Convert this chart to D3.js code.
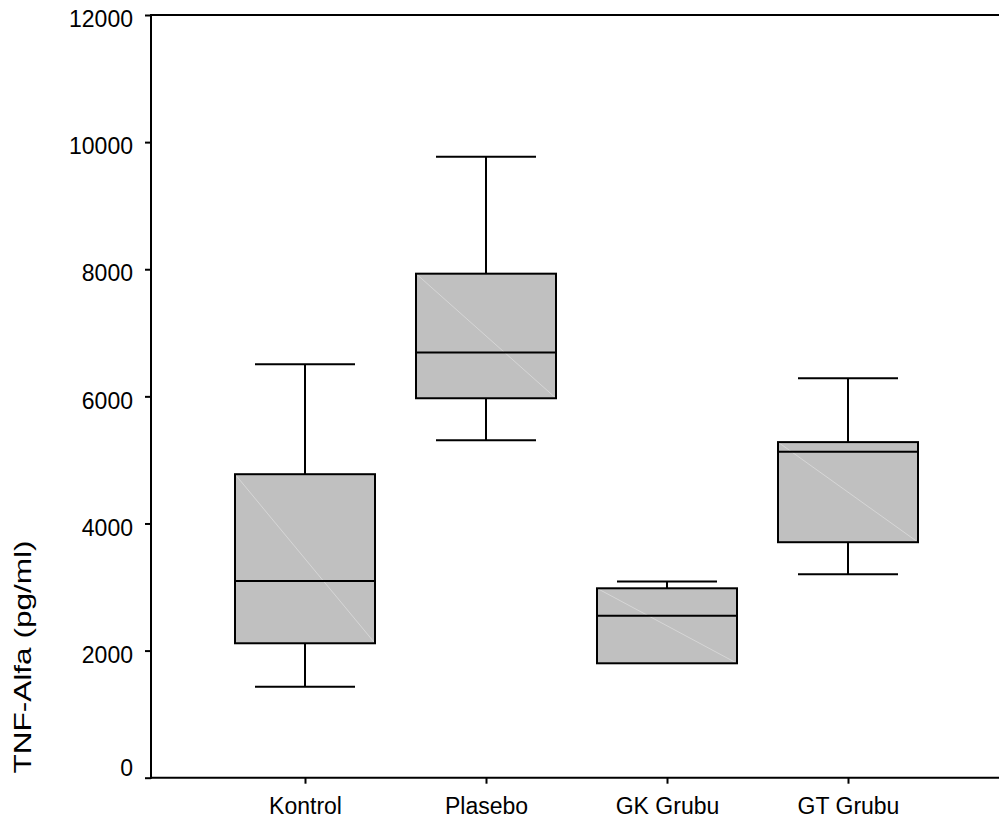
<!DOCTYPE html>
<html>
<head>
<meta charset="utf-8">
<script src="https://cdn.jsdelivr.net/npm/d3@7"></script>
<style>
body { margin: 0; background: #fff; }
text { font-family: "Liberation Sans", Arial, sans-serif; }
</style>
</head>
<body>
<div id="divbody"></div>
<script>
var groups = ["Kontrol", "Plasebo", "GK Grubu", "GT Grubu"];
var whiskerLow = [1430, 5310, 1800, 3200];
var q1 = [2115, 5970, 1800, 3705];
var median = [3095, 6690, 2550, 5130];
var q3 = [4775, 7930, 2980, 5280];
var whiskerHigh = [6505, 9770, 3085, 6285];
var yTicks = [0, 2000, 4000, 6000, 8000, 10000, 12000];

var width = 999;
var height = 821;
var plotLeft = 151, plotRight = 999, plotTop = 15, plotBottom = 777.7;
var boxwidth = 140;
var capwidth = 100;

var svg = d3.select("#divbody").append("svg")
	.attr("width", width)
	.attr("height", height);

var x = d3.scalePoint().domain(groups).range([305, 848]);
var y = d3.scaleLinear().domain([0, 12000]).range([plotBottom, plotTop]);

var boxes = groups.map(function(g, i) {
	return {name: g, lo: whiskerLow[i], q1: q1[i], med: median[i], q3: q3[i], hi: whiskerHigh[i]};
});

// top frame line
svg.append("line")
	.attr("x1", plotLeft).attr("x2", plotRight)
	.attr("y1", y(12000)).attr("y2", y(12000))
	.attr("stroke", "#000").attr("stroke-width", 2);

var yAxis = svg.append("g")
	.attr("transform", "translate(" + plotLeft + ",0)")
	.call(d3.axisLeft(y).tickValues(yTicks).tickFormat(d3.format("d")).tickSize(6).tickPadding(12));
yAxis.select(".domain").remove();
yAxis.append("line")
	.attr("x1", 0).attr("x2", 0)
	.attr("y1", y(12000) - 1).attr("y2", plotBottom + 1)
	.attr("stroke", "#000").attr("stroke-width", 2);
yAxis.selectAll(".tick text")
	.attr("dy", function(d) { return d === 0 ? "-0.08em" : "0.51em"; });

var xAxis = svg.append("g")
	.attr("transform", "translate(0," + plotBottom + ")")
	.call(d3.axisBottom(x).tickSize(6).tickPadding(14));
xAxis.select(".domain").remove();
xAxis.append("line")
	.attr("x1", plotLeft - 1).attr("x2", plotRight)
	.attr("stroke", "#000").attr("stroke-width", 2);

svg.selectAll(".tick line").attr("stroke", "#000").attr("stroke-width", 2);
svg.selectAll(".tick text").attr("fill", "#000").style("font-size", "23px");

var box = svg.selectAll(".box")
	.data(boxes)
	.enter().append("g")
	.attr("class", "box");

// whiskers
box.append("line")
	.attr("x1", function(d) { return x(d.name); })
	.attr("x2", function(d) { return x(d.name); })
	.attr("y1", function(d) { return y(d.hi); })
	.attr("y2", function(d) { return y(d.q3); })
	.attr("stroke", "#000").attr("stroke-width", 2);
box.append("line")
	.attr("x1", function(d) { return x(d.name); })
	.attr("x2", function(d) { return x(d.name); })
	.attr("y1", function(d) { return y(d.q1); })
	.attr("y2", function(d) { return y(d.lo); })
	.attr("stroke", "#000").attr("stroke-width", 2);
box.append("line")
	.attr("x1", function(d) { return x(d.name) - capwidth / 2; })
	.attr("x2", function(d) { return x(d.name) + capwidth / 2; })
	.attr("y1", function(d) { return y(d.hi); })
	.attr("y2", function(d) { return y(d.hi); })
	.attr("stroke", "#000").attr("stroke-width", 2);
box.filter(function(d) { return d.lo < d.q1; })
	.append("line")
	.attr("x1", function(d) { return x(d.name) - capwidth / 2; })
	.attr("x2", function(d) { return x(d.name) + capwidth / 2; })
	.attr("y1", function(d) { return y(d.lo); })
	.attr("y2", function(d) { return y(d.lo); })
	.attr("stroke", "#000").attr("stroke-width", 2);

box.append("rect")
	.attr("x", function(d) { return x(d.name) - boxwidth / 2; })
	.attr("y", function(d) { return y(d.q3); })
	.attr("width", boxwidth)
	.attr("height", function(d) { return y(d.q1) - y(d.q3); })
	.attr("fill", "#c0c0c0");

// faint diagonal from the fill
box.append("line")
	.attr("x1", function(d) { return x(d.name) - boxwidth / 2; })
	.attr("x2", function(d) { return x(d.name) + boxwidth / 2; })
	.attr("y1", function(d) { return y(d.q3); })
	.attr("y2", function(d) { return y(d.q1); })
	.attr("stroke", "#d6d6d6").attr("stroke-width", 1);

box.append("rect")
	.attr("x", function(d) { return x(d.name) - boxwidth / 2; })
	.attr("y", function(d) { return y(d.q3); })
	.attr("width", boxwidth)
	.attr("height", function(d) { return y(d.q1) - y(d.q3); })
	.attr("fill", "none")
	.attr("stroke", "#000").attr("stroke-width", 2);

box.append("line")
	.attr("x1", function(d) { return x(d.name) - boxwidth / 2; })
	.attr("x2", function(d) { return x(d.name) + boxwidth / 2; })
	.attr("y1", function(d) { return y(d.med); })
	.attr("y2", function(d) { return y(d.med); })
	.attr("stroke", "#000").attr("stroke-width", 2);

svg.append("text")
	.attr("transform", "translate(31,657) rotate(-90)")
	.attr("text-anchor", "middle")
	.attr("textLength", 233)
	.attr("lengthAdjust", "spacingAndGlyphs")
	.style("font-size", "24px")
	.text("TNF-Alfa (pg/ml)");
</script>
</body>
</html>
